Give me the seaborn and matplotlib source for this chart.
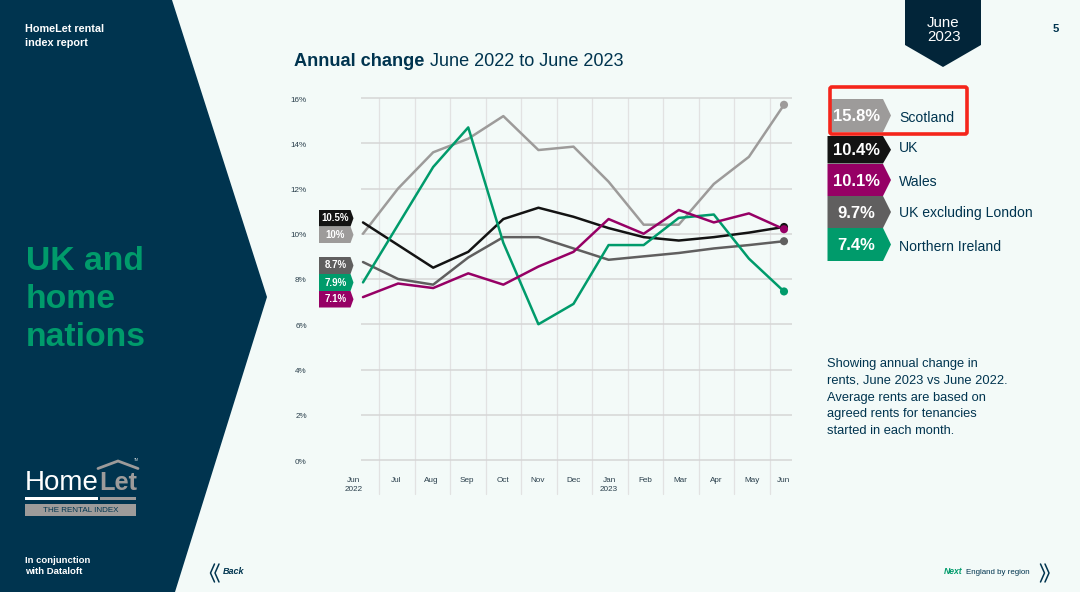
import numpy as np
import pandas as pd
import matplotlib
matplotlib.use("Agg")
import matplotlib.pyplot as plt
from matplotlib.patches import Polygon, Rectangle, FancyBboxPatch
from matplotlib.transforms import ScaledTranslation
import seaborn as sns

months = ["Jun\n2022", "Jul", "Aug", "Sep", "Oct", "Nov", "Dec", "Jan\n2023", "Feb", "Mar", "Apr", "May", "Jun"]
scotland = [10.0, 12.0, 13.6, 14.2, 15.2, 13.7, 13.85, 12.3, 10.4, 10.4, 12.2, 13.4, 15.7]
uk = [10.5, 9.5, 8.5, 9.2, 10.65, 11.15, 10.75, 10.25, 9.85, 9.7, 9.85, 10.05, 10.3]
uk_ex_london = [8.75, 8.0, 7.75, 8.95, 9.85, 9.85, 9.35, 8.85, 9.0, 9.15, 9.35, 9.5, 9.67]
northern_ireland = [7.85, 10.4, 12.95, 14.7, 9.6, 6.0, 6.9, 9.5, 9.5, 10.7, 10.85, 8.9, 7.45]
wales = [7.2, 7.8, 7.6, 8.25, 7.75, 8.55, 9.2, 10.65, 10.0, 11.05, 10.5, 10.9, 10.2]
series_names = ["Scotland", "UK", "UK excluding London", "Northern Ireland", "Wales"]
legend_names = ["Scotland", "UK", "Wales", "UK excluding London", "Northern Ireland"]
legend_values = ["15.8%", "10.4%", "10.1%", "9.7%", "7.4%"]
start_labels = ["10.5%", "10%", "8.7%", "7.9%", "7.1%"]
y_ticks = [0, 2, 4, 6, 8, 10, 12, 14, 16]

NAVY = "#00344F"; DEEP = "#022539"; BG = "#F3FAF8"; GREEN = "#009B6B"; PURPLE = "#960065"
BLACK = "#131313"; GREY = "#9D9B9A"; DGREY = "#605F5F"
palette = dict(zip(series_names, [GREY, BLACK, DGREY, GREEN, PURPLE]))

sns.set_theme(style="white")
plt.rcParams["font.family"] = ["Liberation Sans", "DejaVu Sans"]

W, H = 1080, 592
fig = plt.figure(figsize=(W / 100, H / 100), dpi=100, facecolor=BG)

# page layer, in image pixels
pg = fig.add_axes([0, 0, 1, 1])
pg.set_xlim(0, W); pg.set_ylim(H, 0); pg.axis("off")

pg.add_patch(Polygon([(0, 0), (172, 0), (267, 297), (175, 592), (0, 592)], fc=NAVY, ec="none"))
pg.add_patch(Polygon([(905, 0), (981, 0), (981, 45), (943, 67), (905, 45)], fc=DEEP, ec="none"))
pg.text(943.5, 30, "June\n2023", color="white", fontsize=10.8, ha="center", va="center", linespacing=0.95)
pg.text(1056, 29.5, "5", color=NAVY, fontsize=8.2, weight="bold", ha="center", va="center")
pg.text(25, 36, "HomeLet rental\nindex report", color="white", fontsize=7.8, weight="bold", va="center", linespacing=1.45)
for yy, line in zip([261, 299, 337], ["UK and", "home", "nations"]):
    pg.text(26, yy, line, color=GREEN, fontsize=24.3, weight="bold", va="center")
pg.text(25, 566, "In conjunction\nwith Dataloft", color="white", fontsize=6.8, weight="bold", va="center", linespacing=1.4)

# logo
pg.text(24.5, 483, "Home", color="white", fontsize=20, va="center", ha="left")
pg.text(99.5, 483.5, "Let", color=GREY, fontsize=18.3, va="center", ha="left", weight="bold")
pg.plot([98, 118, 138], [468.5, 461, 468.5], color=GREY, lw=2, solid_joinstyle="miter")
pg.add_patch(Rectangle((25, 497), 73, 2.5, fc="white", ec="none"))
pg.add_patch(Rectangle((100, 497), 36, 2.5, fc=GREY, ec="none"))
pg.add_patch(Rectangle((25, 504), 111, 12, fc=GREY, ec="none"))
pg.text(80.5, 510, "THE RENTAL INDEX", color=NAVY, fontsize=5.8, ha="center", va="center")
pg.text(136, 460, "TM", color="#cfd6d9", fontsize=2.5, ha="center", va="center")

# footer navigation
for tip, arm in [(210.5, 214.5), (215, 219), (1049, 1045), (1044.5, 1040.5)]:
    pg.plot([arm, tip, arm], [564, 573, 582], color=NAVY, lw=1.1)
pg.text(223, 572, "Back", color=NAVY, fontsize=6.5, weight="bold", style="italic", va="center")
pg.text(944, 572, "Next", color=GREEN, fontsize=6.2, weight="bold", style="italic", va="center")
pg.text(966, 572, "England by region", color=NAVY, fontsize=5.7, va="center")

# title
pg.text(294, 61, "Annual change", color=NAVY, fontsize=13.1, weight="bold", va="center")
pg.text(430, 61, "June 2022 to June 2023", color=NAVY, fontsize=13.1, va="center")


def tag(x0, x1, y0, y1, color, label, size, depth, cx=None, dy=0):
    pg.add_patch(Polygon([(x0, y0), (x1 - depth, y0), (x1, (y0 + y1) / 2), (x1 - depth, y1), (x0, y1)],
                         fc=color, ec="none", zorder=3))
    pg.text(cx if cx else (x0 + x1 - depth * 0.6) / 2, (y0 + y1) / 2 + dy, label, color="white", fontsize=size,
            weight="bold", ha="center", va="center", zorder=4)


# tags at the start of the lines
for lab, col, (a, b) in zip(start_labels, [BLACK, GREY, DGREY, GREEN, PURPLE],
                            [(210, 226.5), (226.5, 243), (257, 274), (274, 291), (291, 307.5)]):
    tag(319, 353.5, a, b, col, lab, 7, 3)

# legend tags
rows = [(99, 132), (136, 163.5), (164, 196), (196, 228), (228, 261)]
cols = [GREY, BLACK, PURPLE, DGREY, GREEN]
text_y = [118, 148.5, 182, 213.5, 247]
for i, (nm, v, (a, b), c, ty) in enumerate(zip(legend_names, legend_values, rows, cols, text_y)):
    tag(831 if i == 0 else 827.5, 891, a, b, c, v, 12, 8, cx=856.5 if i else 857, dy=1)
    pg.text(899, ty, nm, color=NAVY, fontsize=10.1, va="center", ha="left")
pg.add_patch(FancyBboxPatch((830, 87), 137, 47, boxstyle="round,pad=0,rounding_size=2",
                            fc="none", ec="#F5251B", lw=2.6, zorder=5))

# note
note = ["Showing annual change in", "rents, June 2023 vs June 2022.", "Average rents are based on",
        "agreed rents for tenancies", "started in each month."]
for yy, line in zip([363.5, 380.5, 397.5, 414.5, 431.5], note):
    pg.text(827, yy, line, color=NAVY, fontsize=9.25, va="center", ha="left")
pg.add_patch(Rectangle((820, 385), 200, 4.5, fc=BG, ec="none", zorder=5))

# chart axes: x is the month index, y the percentage; the axes reach left of the
# grid so that the first tick label, which sits outside the grid, is still drawn
AX_LEFT, GRID_LEFT, PX1, PY_TOP, PY_BOT = 345, 361, 792, 98, 460
STEP = (784 - 363) / 12
ax = fig.add_axes([AX_LEFT / W, 1 - PY_BOT / H, (PX1 - AX_LEFT) / W, (PY_BOT - PY_TOP) / H])
ax.patch.set_alpha(0)

df = pd.DataFrame({"month": np.arange(len(months)), "Scotland": scotland, "UK": uk,
                   "UK excluding London": uk_ex_london, "Northern Ireland": northern_ireland, "Wales": wales})
long = df.melt(id_vars="month", var_name="series", value_name="change")

ax.hlines(y_ticks, (GRID_LEFT - 363) / STEP, (PX1 - 363) / STEP, color="#D6D6D6", lw=1.1, zorder=1, clip_on=False)
for k in range(12):
    xv = (379.3 + 35.5 * k - 363) / STEP
    ax.plot([xv, xv], [16, -34 / 22.6], color="#E2E2E2", lw=0.9, zorder=0.9, clip_on=False)

sns.lineplot(data=long, x="month", y="change", hue="series", hue_order=series_names, palette=palette,
             lw=1.8, legend=False, ax=ax, zorder=3, estimator=None, sort=False)
ends = long[long["month"] == len(months) - 1]
sns.scatterplot(data=ends, x="month", y="change", hue="series", hue_order=series_names, palette=palette,
                s=34, linewidth=0, legend=False, ax=ax, zorder=4, clip_on=False)

tick_px = [353.5, 396.5, 431, 467, 503, 538, 573.5, 609, 645, 680, 716.5, 752, 783.5]
ax.set_xticks([(p - 363) / STEP for p in tick_px])
ax.set_xticklabels(months, fontsize=5.9, color="#2A3F4C", linespacing=1.5)
ax.set_yticks(y_ticks)
ax.set_yticklabels([f"{v}%" for v in y_ticks], fontsize=5.9, color="#2A3F4C")
ax.tick_params(axis="x", length=0, pad=12)
ax.tick_params(axis="y", length=0, pad=27.5)
shift = ScaledTranslation(0, -1 / 100, fig.dpi_scale_trans)
for lab in ax.get_yticklabels():
    lab.set_transform(lab.get_transform() + shift)
ax.set_xlabel(""); ax.set_ylabel("")
sns.despine(ax=ax, left=True, bottom=True)
ax.grid(False)
ax.set_xlim((AX_LEFT - 363) / STEP, (PX1 - 363) / STEP)
ax.set_ylim(0, 16)

fig.savefig("out.png", dpi=100, facecolor=BG)
